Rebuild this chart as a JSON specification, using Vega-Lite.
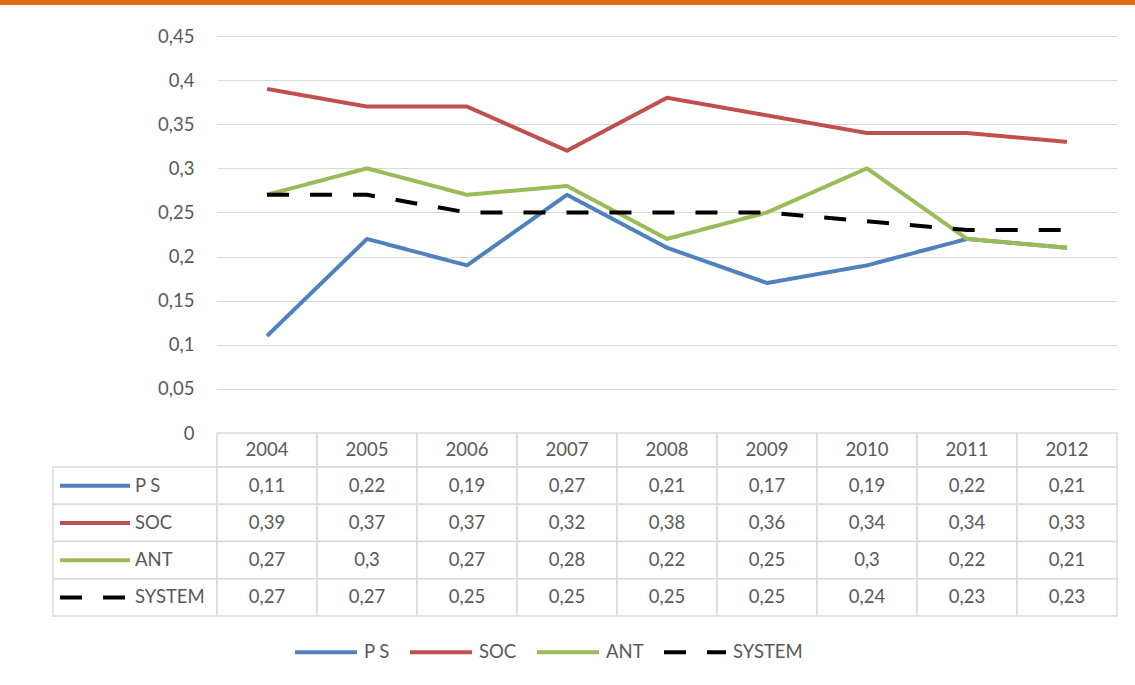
{
  "$schema": "https://vega.github.io/schema/vega-lite/v6.json",
  "background": "white",
  "padding": 0,
  "autosize": {"type": "pad"},
  "datasets": {
    "scores": [
      {"series": "P S", "year": "2004", "value": 0.11},
      {"series": "P S", "year": "2005", "value": 0.22},
      {"series": "P S", "year": "2006", "value": 0.19},
      {"series": "P S", "year": "2007", "value": 0.27},
      {"series": "P S", "year": "2008", "value": 0.21},
      {"series": "P S", "year": "2009", "value": 0.17},
      {"series": "P S", "year": "2010", "value": 0.19},
      {"series": "P S", "year": "2011", "value": 0.22},
      {"series": "P S", "year": "2012", "value": 0.21},
      {"series": "SOC", "year": "2004", "value": 0.39},
      {"series": "SOC", "year": "2005", "value": 0.37},
      {"series": "SOC", "year": "2006", "value": 0.37},
      {"series": "SOC", "year": "2007", "value": 0.32},
      {"series": "SOC", "year": "2008", "value": 0.38},
      {"series": "SOC", "year": "2009", "value": 0.36},
      {"series": "SOC", "year": "2010", "value": 0.34},
      {"series": "SOC", "year": "2011", "value": 0.34},
      {"series": "SOC", "year": "2012", "value": 0.33},
      {"series": "ANT", "year": "2004", "value": 0.27},
      {"series": "ANT", "year": "2005", "value": 0.3},
      {"series": "ANT", "year": "2006", "value": 0.27},
      {"series": "ANT", "year": "2007", "value": 0.28},
      {"series": "ANT", "year": "2008", "value": 0.22},
      {"series": "ANT", "year": "2009", "value": 0.25},
      {"series": "ANT", "year": "2010", "value": 0.3},
      {"series": "ANT", "year": "2011", "value": 0.22},
      {"series": "ANT", "year": "2012", "value": 0.21},
      {"series": "SYSTEM", "year": "2004", "value": 0.27},
      {"series": "SYSTEM", "year": "2005", "value": 0.27},
      {"series": "SYSTEM", "year": "2006", "value": 0.25},
      {"series": "SYSTEM", "year": "2007", "value": 0.25},
      {"series": "SYSTEM", "year": "2008", "value": 0.25},
      {"series": "SYSTEM", "year": "2009", "value": 0.25},
      {"series": "SYSTEM", "year": "2010", "value": 0.24},
      {"series": "SYSTEM", "year": "2011", "value": 0.23},
      {"series": "SYSTEM", "year": "2012", "value": 0.23}
    ]
  },
  "config": {
    "view": {"stroke": null},
    "font": "Lato",
    "locale": {"number": {"decimal": ",", "thousands": ".", "grouping": [3], "currency": ["", " €"]}},
    "legend": {
      "title": null,
      "direction": "horizontal",
      "symbolType": "stroke",
      "symbolSize": 3844,
      "symbolStrokeWidth": 4,
      "labelFont": "Lato",
      "labelFontSize": 18.5,
      "labelColor": "#595959",
      "labelOffset": 5,
      "columnPadding": 12
    }
  },
  "spacing": 31,
  "bounds": "flush",
  "vconcat": [
    {
      "width": 1135,
      "height": 5,
      "data": {"values": []},
      "mark": "text",
      "view": {"fill": "#E36C0A", "stroke": null}
    },
    {
      "columns": 3,
      "spacing": 0,
      "bounds": "flush",
      "concat": [
        {"width": 53, "height": 397, "data": {"values": []}, "mark": "text"},
        {"width": 164, "height": 397, "data": {"values": []}, "mark": "text"},
        {
          "width": 900,
          "height": 397,
          "data": {"name": "scores"},
          "mark": {"type": "line", "strokeWidth": 4, "strokeJoin": "round"},
          "encoding": {
            "x": {"field": "year", "type": "ordinal", "scale": {"type": "point", "padding": 0.5}, "axis": null},
            "y": {
              "field": "value",
              "type": "quantitative",
              "scale": {"domain": [0, 0.45], "nice": false, "zero": true},
              "axis": {
                "values": [0, 0.05, 0.1, 0.15, 0.2, 0.25, 0.3, 0.35, 0.4, 0.45],
                "format": ".2~f",
                "title": null,
                "domain": false,
                "ticks": false,
                "tickSize": 0,
                "labelPadding": 23,
                "grid": true,
                "gridColor": "#D9D9D9",
                "gridWidth": 1.2,
                "labelFont": "Lato",
                "labelFontSize": 18.5,
                "labelColor": "#595959"
              }
            },
            "color": {
              "field": "series",
              "type": "nominal",
              "scale": {"domain": ["P S", "SOC", "ANT", "SYSTEM"], "range": ["#4F81BD", "#C0504D", "#9BBB59", "#000000"]},
              "legend": {"orient": "none", "legendX": 293, "legendY": 619}
            },
            "strokeDash": {
              "field": "series",
              "type": "nominal",
              "scale": {"domain": ["P S", "SOC", "ANT", "SYSTEM"], "range": [[1, 0], [1, 0], [1, 0], [22, 21]]},
              "legend": {"orient": "none", "legendX": 293, "legendY": 619}
            }
          }
        },
        {"width": 53, "height": 34, "data": {"values": []}, "mark": "text"},
        {"width": 164, "height": 34, "data": {"values": []}, "mark": "text"},
        {
          "width": 900,
          "height": 34,
          "data": {"name": "scores"},
          "transform": [{"filter": "datum.series == 'P S'"}],
          "encoding": {
            "x": {"field": "year", "type": "ordinal", "scale": {"type": "band", "paddingInner": 0, "paddingOuter": 0}, "axis": null}
          },
          "layer": [
            {"mark": {"type": "rect", "fill": "white", "stroke": "#D9D9D9", "strokeWidth": 1.5}},
            {
              "mark": {"type": "text", "font": "Lato", "fontSize": 18.5, "color": "#595959"},
              "encoding": {"text": {"field": "year"}}
            }
          ]
        },
        {"width": 53, "height": 149, "data": {"values": []}, "mark": "text"},
        {
          "width": 164,
          "height": 149,
          "data": {"name": "scores"},
          "transform": [{"filter": "datum.year == '2004'"}],
          "encoding": {
            "y": {"field": "series", "type": "nominal", "scale": {"domain": ["P S", "SOC", "ANT", "SYSTEM"], "paddingInner": 0, "paddingOuter": 0}, "axis": null}
          },
          "layer": [
            {"mark": {"type": "rect", "fill": "white", "stroke": "#D9D9D9", "strokeWidth": 1.5}},
            {
              "mark": {"type": "text", "align": "left", "font": "Lato", "fontSize": 18.5, "color": "#595959"},
              "encoding": {"text": {"field": "series"}}
            },
            {
              "mark": {"type": "point", "shape": "M-2.143,0L-0.143,0", "size": 4900, "filled": false, "strokeWidth": 4, "opacity": 1},
              "encoding": {
                "color": {"field": "series", "type": "nominal", "legend": null},
                "strokeDash": {"field": "series", "type": "nominal", "legend": null}
              }
            }
          ]
        },
        {
          "width": 900,
          "height": 149,
          "data": {"name": "scores"},
          "encoding": {
            "x": {"field": "year", "type": "ordinal", "scale": {"type": "band", "paddingInner": 0, "paddingOuter": 0}, "axis": null},
            "y": {"field": "series", "type": "nominal", "scale": {"domain": ["P S", "SOC", "ANT", "SYSTEM"], "paddingInner": 0, "paddingOuter": 0}, "axis": null}
          },
          "layer": [
            {"mark": {"type": "rect", "fill": "white", "stroke": "#D9D9D9", "strokeWidth": 1.5}},
            {
              "mark": {"type": "text", "font": "Lato", "fontSize": 18.5, "color": "#595959"},
              "encoding": {"text": {"field": "value", "type": "quantitative", "format": ".2~f"}}
            }
          ]
        }
      ]
    }
  ]
}
